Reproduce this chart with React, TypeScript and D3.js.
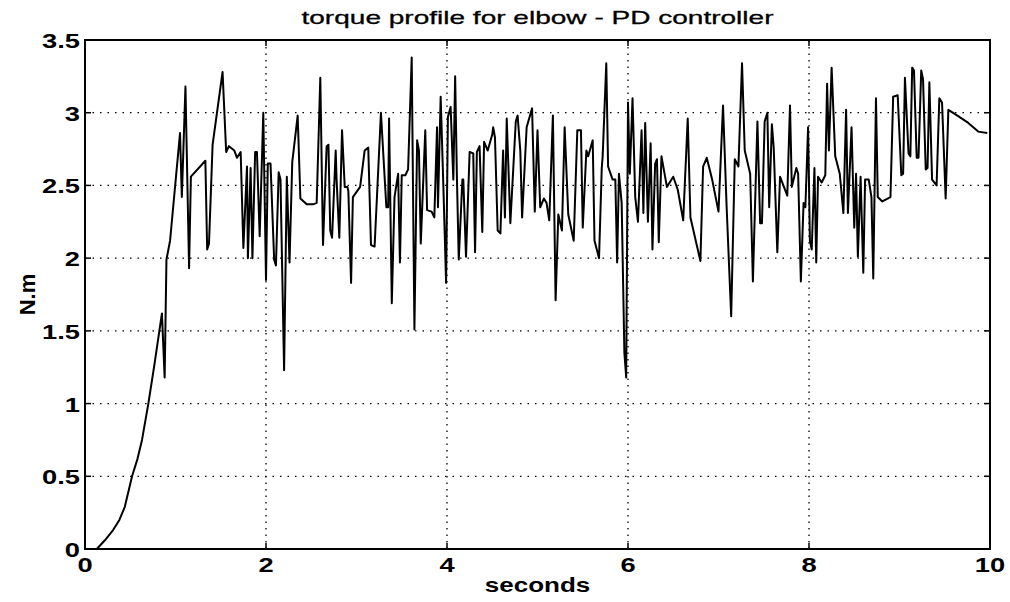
import React from "react";
import * as d3 from "d3";

const title = "torque profile for elbow - PD controller";
const xLabel = "seconds";
const yLabel = "N.m";
const xTicks = [0, 2, 4, 6, 8, 10];
const yTicks = [0, 0.5, 1, 1.5, 2, 2.5, 3, 3.5];

const times = [
  0.0, 0.13, 0.22, 0.31, 0.38, 0.44, 0.52, 0.58, 0.63, 0.7, 0.77, 0.85, 0.88, 0.9, 0.94, 1.05, 1.07, 1.11, 1.15, 1.17, 1.33, 1.35, 1.37, 1.41, 1.52,
  1.56, 1.59, 1.65, 1.68, 1.72, 1.75, 1.79, 1.8, 1.83, 1.85, 1.88, 1.9, 1.93, 1.97, 2.0, 2.02, 2.05, 2.09, 2.11, 2.14, 2.16, 2.2, 2.23, 2.26, 2.29,
  2.35, 2.38, 2.45, 2.52, 2.56, 2.6, 2.63, 2.67, 2.69, 2.71, 2.73, 2.77, 2.78, 2.81, 2.84, 2.87, 2.9, 2.91, 2.94, 2.96, 3.04, 3.09, 3.13, 3.16, 3.2,
  3.27, 3.33, 3.35, 3.36, 3.39, 3.42, 3.46, 3.48, 3.5, 3.54, 3.57, 3.61, 3.64, 3.67, 3.69, 3.71, 3.76, 3.78, 3.83, 3.86, 3.89, 3.9, 3.93, 3.96, 3.99,
  4.01, 4.04, 4.07, 4.09, 4.11, 4.13, 4.17, 4.18, 4.21, 4.25, 4.29, 4.31, 4.33, 4.36, 4.39, 4.41, 4.45, 4.5, 4.51, 4.53, 4.56, 4.59, 4.62, 4.64, 4.66,
  4.7, 4.76, 4.78, 4.81, 4.83, 4.88, 4.94, 4.97, 5.0, 5.03, 5.07, 5.1, 5.13, 5.17, 5.2, 5.23, 5.27, 5.3, 5.34, 5.4, 5.44, 5.48, 5.5, 5.54, 5.56,
  5.61, 5.63, 5.68, 5.71, 5.72, 5.76, 5.78, 5.83, 5.86, 5.88, 5.9, 5.93, 5.96, 5.98, 6.0, 6.02, 6.05, 6.08, 6.11, 6.15, 6.17, 6.19, 6.22, 6.25, 6.27,
  6.3, 6.32, 6.34, 6.37, 6.43, 6.5, 6.55, 6.61, 6.66, 6.69, 6.8, 6.83, 6.87, 6.93, 7.0, 7.05, 7.09, 7.14, 7.18, 7.22, 7.26, 7.29, 7.35, 7.38, 7.43,
  7.46, 7.48, 7.51, 7.54, 7.56, 7.59, 7.61, 7.65, 7.68, 7.76, 7.79, 7.81, 7.86, 7.88, 7.91, 7.94, 7.96, 7.99, 8.01, 8.03, 8.06, 8.08, 8.1, 8.14, 8.18,
  8.2, 8.22, 8.25, 8.29, 8.34, 8.38, 8.41, 8.43, 8.47, 8.5, 8.52, 8.54, 8.57, 8.6, 8.62, 8.66, 8.69, 8.71, 8.74, 8.76, 8.81, 8.9, 8.93, 8.98, 9.02,
  9.04, 9.06, 9.1, 9.12, 9.14, 9.16, 9.19, 9.21, 9.24, 9.26, 9.29, 9.31, 9.33, 9.36, 9.41, 9.44, 9.47, 9.51, 9.54, 9.64, 9.76, 9.87, 9.97,
];

const torque = [
  0.0, 0.0, 0.06, 0.13, 0.2, 0.29, 0.5, 0.62, 0.75, 1.0, 1.28, 1.62, 1.18, 1.99, 2.12, 2.86, 2.42, 3.18, 1.93, 2.56, 2.67, 2.06, 2.1, 2.78, 3.28,
  2.73, 2.77, 2.74, 2.69, 2.73, 2.07, 2.63, 2.0, 2.62, 2.0, 2.73, 2.73, 2.15, 3.0, 1.85, 2.65, 2.65, 1.99, 1.95, 2.59, 2.54, 1.23, 2.56, 1.97, 2.66,
  2.98, 2.41, 2.37, 2.37, 2.38, 3.24, 2.09, 2.77, 2.78, 2.19, 2.14, 2.74, 2.54, 2.14, 2.88, 2.49, 2.49, 2.46, 1.83, 2.42, 2.49, 2.74, 2.76, 2.09, 2.08,
  3.0, 2.35, 2.35, 2.96, 1.69, 2.42, 2.58, 1.97, 2.57, 2.57, 2.61, 3.38, 1.51, 2.81, 2.74, 2.1, 2.88, 2.33, 2.32, 2.28, 2.9, 2.35, 3.11, 2.49, 1.83,
  2.97, 3.04, 2.54, 3.25, 2.54, 1.99, 2.54, 2.54, 2.01, 2.73, 2.72, 2.04, 2.73, 2.77, 2.18, 2.8, 2.74, 2.85, 2.9, 2.83, 2.19, 2.17, 2.74, 2.28, 2.96,
  2.24, 2.94, 2.98, 2.74, 2.28, 2.9, 3.03, 2.32, 2.88, 2.35, 2.41, 2.38, 2.26, 2.98, 1.71, 2.3, 2.19, 2.9, 2.3, 2.12, 2.88, 2.88, 2.21, 2.74, 2.7,
  2.81, 2.12, 2.0, 2.62, 2.7, 3.34, 2.63, 2.54, 2.54, 1.97, 2.58, 2.38, 1.35, 1.18, 3.07, 2.58, 3.1, 2.42, 2.25, 2.88, 2.31, 2.93, 2.25, 2.79, 2.06,
  2.65, 2.68, 2.11, 2.7, 2.49, 2.56, 2.47, 2.26, 2.96, 2.28, 1.98, 2.63, 2.69, 2.54, 2.32, 3.05, 2.35, 1.6, 2.68, 2.63, 3.34, 2.74, 2.58, 1.84, 2.94,
  2.24, 2.24, 2.94, 3.0, 2.35, 2.92, 2.76, 2.04, 2.56, 2.43, 3.05, 2.49, 2.62, 2.58, 1.84, 2.38, 2.35, 2.9, 2.12, 2.06, 2.62, 1.97, 2.56, 2.52, 2.57,
  3.2, 2.74, 3.31, 2.7, 2.58, 2.31, 3.02, 2.31, 2.9, 2.21, 2.58, 2.01, 2.56, 1.9, 2.54, 2.54, 2.42, 1.86, 3.1, 2.42, 2.39, 2.42, 3.11, 3.12, 2.57,
  2.58, 3.24, 2.72, 2.7, 3.31, 3.29, 2.69, 2.69, 3.29, 3.23, 2.61, 2.62, 3.21, 2.54, 2.5, 3.1, 3.07, 2.41, 3.02, 2.98, 2.93, 2.87, 2.86,
];

const W = 1010;
const H = 602;
const M = { left: 85, right: 20, top: 40, bottom: 53 };
const SX = 1.3;

export default function App() {
  const x = d3.scaleLinear().domain([0, 10]).range([M.left, W - M.right]);
  const y = d3.scaleLinear().domain([0, 3.5]).range([H - M.bottom, M.top]);
  const pts: [number, number][] = times.map((t, i) => [t, torque[i]]);
  const line = d3
    .line<[number, number]>()
    .x((d) => x(d[0]))
    .y((d) => y(d[1]));
  const x0 = x(0), x1 = x(10), y0 = y(0), y1 = y(3.5);
  const font = "'Liberation Sans', Arial, Helvetica, sans-serif";
  return (
    <svg width={W} height={H} style={{ position: "absolute", left: 0, top: 0, background: "#fff" }}>
      <rect x={0} y={0} width={W} height={H} fill="#fff" />
      {/* grid */}
      {xTicks.slice(1, -1).map((t) => (
        <line key={"gx" + t} x1={x(t)} x2={x(t)} y1={y0} y2={y1} stroke="#000" strokeWidth={1.3} strokeDasharray="1.5 5" />
      ))}
      {yTicks.slice(1, -1).map((t) => (
        <line key={"gy" + t} x1={x0} x2={x1} y1={y(t)} y2={y(t)} stroke="#000" strokeWidth={1.3} strokeDasharray="1.5 6" />
      ))}
      {/* ticks */}
      {xTicks.map((t) => (
        <g key={"tx" + t}>
          <line x1={x(t)} x2={x(t)} y1={y0} y2={y0 - 6} stroke="#000" strokeWidth={1.5} />
          <line x1={x(t)} x2={x(t)} y1={y1} y2={y1 + 6} stroke="#000" strokeWidth={1.5} />
          <g transform={`translate(${x(t)},${y0 + 23}) scale(${SX},1)`}>
            <text x={0} y={0} textAnchor="middle" fontFamily={font} fontWeight="bold" fontSize={21}>
              {t}
            </text>
          </g>
        </g>
      ))}
      {yTicks.map((t) => (
        <g key={"ty" + t}>
          <line x1={x0} x2={x0 + 6} y1={y(t)} y2={y(t)} stroke="#000" strokeWidth={1.5} />
          <line x1={x1} x2={x1 - 6} y1={y(t)} y2={y(t)} stroke="#000" strokeWidth={1.5} />
          <g transform={`translate(${x0 - 5},${y(t) + 8}) scale(${SX},1)`}>
            <text x={0} y={0} textAnchor="end" fontFamily={font} fontWeight="bold" fontSize={21}>
              {t}
            </text>
          </g>
        </g>
      ))}
      {/* data */}
      <path d={line(pts) || ""} fill="none" stroke="#000" strokeWidth={2} strokeLinejoin="round" />
      {/* frame */}
      <rect x={x0} y={y1} width={x1 - x0} height={y0 - y1} fill="none" stroke="#000" strokeWidth={2} />
      {/* labels */}
      <text
        x={(x0 + x1) / 2}
        y={24}
        textAnchor="middle"
        fontFamily={font}
        fontSize={19}
        stroke="#000"
        strokeWidth={0.3}
        textLength={472}
        lengthAdjust="spacingAndGlyphs"
      >
        {title}
      </text>
      <g transform={`translate(${(x0 + x1) / 2},592) scale(${SX},1)`}>
        <text x={0} y={0} textAnchor="middle" fontFamily={font} fontWeight="bold" fontSize={20}>
          {xLabel}
        </text>
      </g>
      <text transform={`translate(35,${(y0 + y1) / 2}) rotate(-90)`} textAnchor="middle" fontFamily={font} fontWeight="bold" fontSize={22}>
        {yLabel}
      </text>
    </svg>
  );
}
